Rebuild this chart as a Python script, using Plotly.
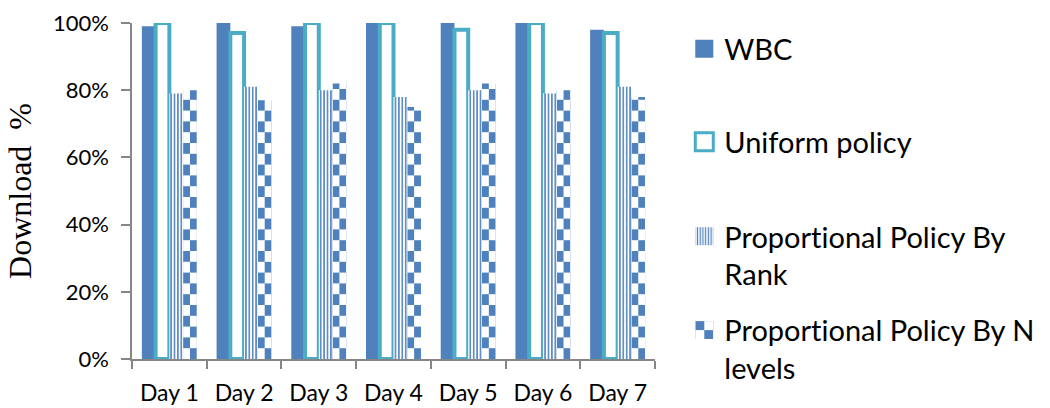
import plotly.graph_objects as go

# ---- data -------------------------------------------------------------
days = ["Day 1", "Day 2", "Day 3", "Day 4", "Day 5", "Day 6", "Day 7"]
wbc = [99, 100, 99, 100, 100, 100, 98]
uniform_policy = [100, 97, 100, 100, 98, 100, 97]
prop_by_rank = [79, 81, 80, 78, 80, 79, 81]
prop_by_nlevels = [80, 77, 82, 75, 82, 80, 78]
y_ticks = [0, 20, 40, 60, 80, 100]
y_tick_labels = ["0%", "20%", "40%", "60%", "80%", "100%"]

series_names = [
    "WBC",
    "Uniform policy",
    "Proportional Policy By<br>Rank",
    "Proportional Policy By N<br>levels",
]

# ---- styling ----------------------------------------------------------
BLUE = "#4F81BD"
TEAL = "#4BACC6"
AXIS = "#868686"
FONT = "Lato, 'Open Sans', sans-serif"

fig = go.Figure()
fig.add_bar(
    x=days, y=wbc, name=series_names[0], legend="legend",
    marker=dict(color=BLUE, line=dict(width=0)),
)
fig.add_bar(
    x=days, y=uniform_policy, name=series_names[1], legend="legend2",
    marker=dict(color="white", line=dict(color=TEAL, width=4)),
    cliponaxis=False,
)
fig.add_bar(
    x=days, y=prop_by_rank, name=series_names[2], legend="legend3",
    marker=dict(
        color="white", line=dict(width=0),
        pattern=dict(shape="|", fgcolor=BLUE, bgcolor="white",
                     size=3.4, solidity=0.45, fillmode="replace"),
    ),
)
fig.add_bar(
    x=days, y=prop_by_nlevels, name=series_names[3], legend="legend4",
    marker=dict(color=BLUE, line=dict(width=0)),
)

legend_common = dict(
    xanchor="left", yanchor="middle", x=1.056,
    font=dict(family=FONT, size=29, color="black"),
    bgcolor="rgba(0,0,0,0)", borderwidth=0, itemwidth=30, valign="top",
)

fig.update_layout(
    width=1050, height=408,
    margin=dict(l=132, r=395, t=23, b=49, autoexpand=False),
    paper_bgcolor="white", plot_bgcolor="white",
    barmode="group", bargap=0.264, bargroupgap=0,
    font=dict(family=FONT, size=22, color="black"),
    showlegend=True,
    legend=dict(legend_common, y=0.923),
    legend2=dict(legend_common, y=0.646),
    legend3=dict(legend_common, y=0.308),
    legend4=dict(legend_common, y=0.029),
    xaxis=dict(
        showline=True, linecolor=AXIS, linewidth=1.5, mirror=False,
        ticks="outside", tickson="boundaries", ticklen=8,
        tickcolor=AXIS, tickwidth=1.5, showgrid=False,
        ticklabelstandoff=13,
        tickfont=dict(family=FONT, size=23, color="black"),
    ),
    yaxis=dict(
        range=[0, 100], tickmode="array", tickvals=y_ticks, ticktext=y_tick_labels,
        showline=True, linecolor=AXIS, linewidth=1.5,
        ticks="outside", ticklen=9, tickcolor=AXIS, tickwidth=1.5,
        showgrid=False, zeroline=False, ticklabelstandoff=8,
        tickfont=dict(family=FONT, size=22, color="black"),
        title=dict(text="Download\u00a0 %", standoff=12,
                   font=dict(family="Liberation Serif", size=32, color="black")),
    ),
)

# Checkerboard fill for the "N levels" series and larger legend swatches.
post_js = """
var gd = document.getElementById('{plot_id}');
var NS = 'http://www.w3.org/2000/svg';
var BLUE = '%s';
var CHECK_NAME = %r;
gd.querySelectorAll('text').forEach(function (t) { t.style.fontVariantLigatures = 'none'; });
function traceOf(el) {
  var d = el.__data__;
  if (!d) return null;
  if (Array.isArray(d) && d[0] && d[0].trace) return d[0].trace;
  if (Array.isArray(d) && Array.isArray(d[0]) && d[0][0] && d[0][0].trace) return d[0][0].trace;
  return null;
}
var nPat = 0;
function checker(el, cellH) {
  var svg = gd.querySelector('svg.main-svg');
  var defs = svg.querySelector('defs');
  var bb = el.getBBox();
  if (bb.width <= 0) return;
  var cw = bb.width / 2;
  var ch = cellH || cw;
  var id = 'checker-fill-' + (nPat++);
  var pat = document.createElementNS(NS, 'pattern');
  pat.setAttribute('id', id);
  pat.setAttribute('patternUnits', 'userSpaceOnUse');
  pat.setAttribute('x', bb.x);
  pat.setAttribute('y', bb.y + bb.height);
  pat.setAttribute('width', 2 * cw);
  pat.setAttribute('height', 2 * ch);
  [[0, 0, 2 * cw, 2 * ch, 'white'], [0, 0, cw, ch, BLUE], [cw, ch, cw, ch, BLUE]].forEach(function (r) {
    var rc = document.createElementNS(NS, 'rect');
    rc.setAttribute('x', r[0]); rc.setAttribute('y', r[1]);
    rc.setAttribute('width', r[2]); rc.setAttribute('height', r[3]);
    rc.setAttribute('fill', r[4]);
    pat.appendChild(rc);
  });
  defs.appendChild(pat);
  el.style.fill = 'url(#' + id + ')';
}
gd.querySelectorAll('.barlayer .trace').forEach(function (t) {
  var tr = traceOf(t);
  if (tr && tr.name === CHECK_NAME) {
    t.querySelectorAll('path').forEach(function (p) { checker(p, 10.8); });
  }
});
gd.querySelectorAll('g.traces').forEach(function (t) {
  var tr = traceOf(t);
  t.querySelectorAll('.legendpoints path').forEach(function (p) {
    p.setAttribute('d', 'M9,9H-9V-9H9Z');
    if (tr && tr.name === 'Uniform policy') { p.style.strokeWidth = '3px'; }
    if (tr && tr.name === CHECK_NAME) { checker(p, 9); }
  });
});
""" % (BLUE, series_names[3])

fig.write_html("out.html", post_script=post_js)
